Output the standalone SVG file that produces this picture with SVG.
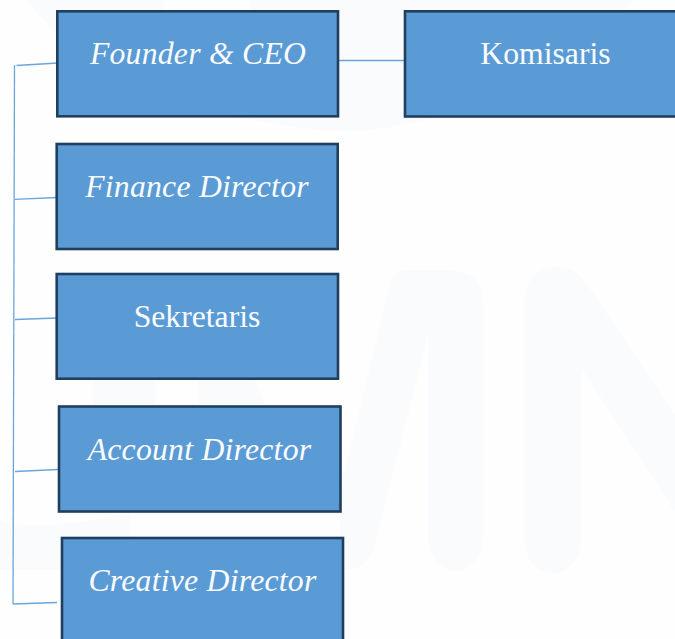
<svg xmlns="http://www.w3.org/2000/svg" width="675" height="639" viewBox="0 0 675 639">
<style>
.box{fill:#5b9bd5;stroke:#203f5e;stroke-width:2.600}
.lbl{font-family:"Liberation Serif","Times New Roman",serif;font-size:31.700px;fill:#fafcff;text-anchor:middle}
.it{font-style:italic;letter-spacing:.25px}
.con{fill:none;stroke:#6aa5dc;stroke-width:1.300}
.wm{fill:#fafbfd}
</style>
<rect width="675" height="639" fill="#fefefe"/>
<g id="watermark">
<path class="wm" d="M27 0C70 60 150 105 235 117C280 124 310 131 345 131C375 131 405 125 430 118C510 96 585 60 633 0H250V10H163V0Z"/>
<path class="wm" d="M345 570C365 570 372 555 376 540L428 335V535C428 558 442 571 455 571C470 571 483 558 483 535V300C483 280 470 270 440 270H410C395 270 392 278 390 285L340 490V570Z"/>
<path class="wm" d="M525 300C525 278 540 267 560 267C575 267 585 280 592 292L675 415V512L581 367V540C581 560 568 573 553 573C537 573 525 560 525 540Z"/>
<path class="wm" d="M93 380H155V405H93ZM198 380H255L265 405H198Z"/>
<path class="wm" d="M0 570V520C20 528 60 528 130 513V537L60 570Z"/>
</g>
<g id="connectors">
<path class="con" d="M14.500 65L13 604"/>
<path class="con" d="M16.500 65.500L58 63"/>
<path class="con" d="M14.500 199.300L57 197.500"/>
<path class="con" d="M15 319.500L57 318"/>
<path class="con" d="M15 471.500L58 469.500"/>
<path class="con" d="M13 604L57 602.500"/>
<path class="con" d="M338 60.500H406"/>
</g>
<g id="founder-ceo"><rect class="box" x="57.300" y="11.300" width="280.700" height="105"/><text class="lbl it" x="198" y="63.500">Founder &amp; CEO</text></g>
<g id="komisaris"><rect class="box" x="405" y="11.300" width="280" height="105.200"/><text class="lbl" x="545.500" y="63.500">Komisaris</text></g>
<g id="finance-director"><rect class="box" x="56.700" y="144" width="281" height="105"/><text class="lbl it" x="197" y="196.500">Finance Director</text></g>
<g id="sekretaris"><rect class="box" x="56.700" y="274" width="281.300" height="104.700"/><text class="lbl" x="197" y="326.500">Sekretaris</text></g>
<g id="account-director"><rect class="box" x="59" y="406.500" width="281.500" height="105"/><text class="lbl it" x="199.500" y="459.500">Account Director</text></g>
<g id="creative-director"><rect class="box" x="62" y="538" width="281" height="110"/><text class="lbl it" x="202.500" y="590.500">Creative Director</text></g>
</svg>
